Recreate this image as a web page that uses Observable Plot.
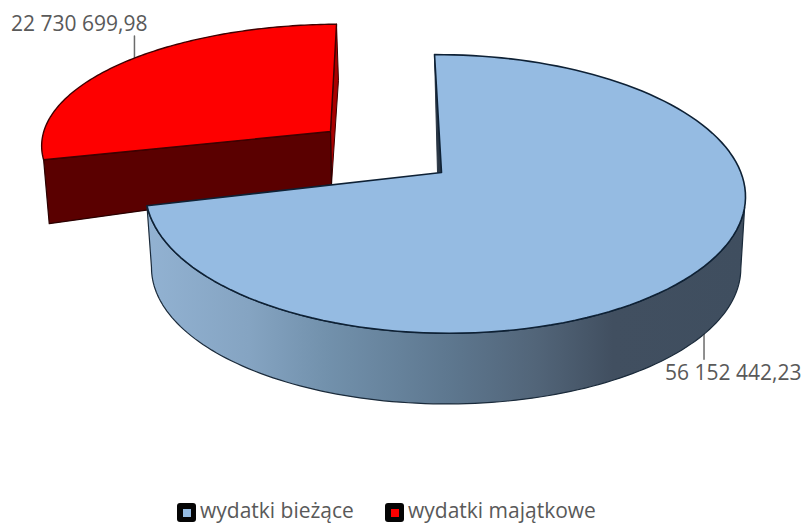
<!DOCTYPE html>
<html lang="pl">
<head>
<meta charset="utf-8">
<title>Wydatki</title>
<script src="https://cdn.jsdelivr.net/npm/d3@7"></script>
<script src="https://cdn.jsdelivr.net/npm/@observablehq/plot@0.6"></script>
<style>
  html, body { margin: 0; background: #fff; }
  svg { display: block; }
  .legend { position: relative; height: 25px; font: 21px "Open Sans", sans-serif; color: #595959; }
  .item { position: absolute; top: 0; height: 20px; line-height: 20px; white-space: nowrap; }
  .swatch { position: absolute; left: 0; top: 0; width: 19px; height: 19px; background: #050505; border-radius: 3px; }
  .swatch i { position: absolute; left: 6px; top: 6px; width: 8px; height: 8px; }
  .item span { position: absolute; left: 23px; top: -3px; }
</style>
</head>
<body>
<div id="chart"></div>
<div class="legend" id="legend"></div>
<script>
// Budget split
const categories = ["wydatki bieżące", "wydatki majątkowe"];
const amounts = [56152442.23, 22730699.98];
const faceColors = ["#95bbe2", "#fe0000"];

const W = 803, H = 498;
const formatAmount = d3.formatLocale({decimal: ",", thousands: " ", grouping: [3]}).format(",.2f");

// Perspective disc: angle is degrees clockwise from the back of the disc.
const plane = (p) => (deg) => {
  const t = deg * Math.PI / 180, u = Math.sin(t), v = Math.cos(t);
  const w = 1 + p.k * v + p.m * u;
  const y = -p.a * v / w;
  return {x: p.cx + p.b * u / w + p.s * y + (p.q || 0) * y * y, y: p.cy + y};
};
const centre = (p) => ({x: p.cx, y: p.cy});
const arc = (f, from, to, n = 120) => d3.range(n + 1).map((i) => f(from + (to - from) * i / n));
const closed = (pts) => [...pts, pts[0]];

const total = d3.sum(amounts);
const sweep = amounts[0] / total * 360;
const wallStart = 104;

const blueTopP = {cx: 441, cy: 172, a: 136, b: 296.4, k: 0.154, m: -0.01, s: 0.0447, q: -0.0001236};
const blueBotP = {cx: 442, cy: 235, a: 128, b: 286, k: 0.24, m: -0.012, s: 0};
const redTopP = {cx: 330, cy: 131, a: 118, b: 291, k: 0.1, m: -0.015, s: -0.056};
const redBotP = {cx: 331, cy: 184, a: 150, b: 262, k: 0.44, m: -0.015, s: -0.067};
const blueTop = plane(blueTopP), blueBot = plane(blueBotP);
const redTop = plane(redTopP), redBot = plane(redBotP);

const blueFace = closed([centre(blueTopP), ...arc(blueTop, 0, sweep)]);
const blueWall = closed([...arc(blueTop, wallStart, sweep), ...arc(blueBot, sweep, wallStart)]);
const blueInner = closed([blueTop(0), centre(blueTopP), {x: blueTopP.cx - 4, y: blueTopP.cy}]);
const redFace = closed([centre(redTopP), ...arc(redTop, sweep, 360)]);
const redFront = closed([centre(redTopP), redTop(sweep), redBot(sweep), centre(redBotP)]);
const redInner = closed([redTop(360), redBot(360), centre(redBotP), centre(redTopP)]);

// Value labels hang off the rim near the middle of each slice.
const blueMid = blueBot(sweep / 2 + 2);
const redMid = redTop((sweep + 360) / 2 + 4);
const blueLeader = [blueMid, {x: blueMid.x, y: blueMid.y + 25}];
const redLeader = [{x: redMid.x, y: redMid.y - 22}, redMid];

const edge = {x: "x", y: "y", strokeLinejoin: "round"};
const chart = Plot.plot({
  width: W, height: H, margin: 0,
  x: {domain: [0, W], range: [0, W], axis: null},
  y: {domain: [0, H], range: [0, H], axis: null},
  marks: [
    () => {
      const defs = d3.create("svg:defs");
      const g = defs.append("linearGradient").attr("id", "wallShade")
        .attr("x1", 0).attr("x2", 1).attr("y1", 0).attr("y2", 0);
      [[0, "#92b2d2"], [0.17, "#85a4c2"], [0.3, "#7291ac"], [0.5, "#5e7890"], [0.65, "#526579"], [0.78, "#414f60"], [1, "#3f4e5f"]]
        .forEach(([o, c]) => g.append("stop").attr("offset", o).attr("stop-color", c));
      return defs.node();
    },
    Plot.line(redLeader, {...edge, stroke: "#6b6b6b", strokeWidth: 1.5}),
    Plot.line(redInner, {...edge, fill: "#a80000", stroke: "#400000", strokeWidth: 1}),
    Plot.line(redFront, {...edge, fill: "#5a0000", stroke: "#2a0000", strokeWidth: 1.2}),
    Plot.line(redFace, {...edge, fill: faceColors[1], stroke: "#400000", strokeWidth: 1.4}),
    Plot.line(blueLeader, {...edge, stroke: "#6b6b6b", strokeWidth: 1.5}),
    Plot.line(blueWall, {...edge, fill: "url(#wallShade)", stroke: "#1a2a3a", strokeWidth: 1.2}),
    Plot.line(blueInner, {...edge, fill: "#2a3644", stroke: "#2a3644", strokeWidth: 1}),
    Plot.line(blueFace, {...edge, fill: faceColors[0], stroke: "#0e2135", strokeWidth: 1.6}),
    Plot.text([redLeader[0]], {
      ...edge, text: () => formatAmount(amounts[1]), textAnchor: "end", lineAnchor: "bottom",
      dx: 13, dy: -5, fontSize: 21, fontFamily: "Open Sans", fill: "#595959"
    }),
    Plot.text([blueLeader[1]], {
      ...edge, text: () => formatAmount(amounts[0]), textAnchor: "start", lineAnchor: "top",
      dx: -39, dy: 6, fontSize: 21, fontFamily: "Open Sans", fill: "#595959"
    })
  ]
});
document.getElementById("chart").append(chart);

// Legend below the chart
const legendLeft = [177, 385];
const legend = d3.select("#legend");
categories.forEach((name, i) => {
  const item = legend.append("div").attr("class", "item").style("left", legendLeft[i] + "px").style("top", "5px");
  item.append("div").attr("class", "swatch").append("i").style("background", faceColors[i]);
  item.append("span").text(name);
});
</script>
</body>
</html>
